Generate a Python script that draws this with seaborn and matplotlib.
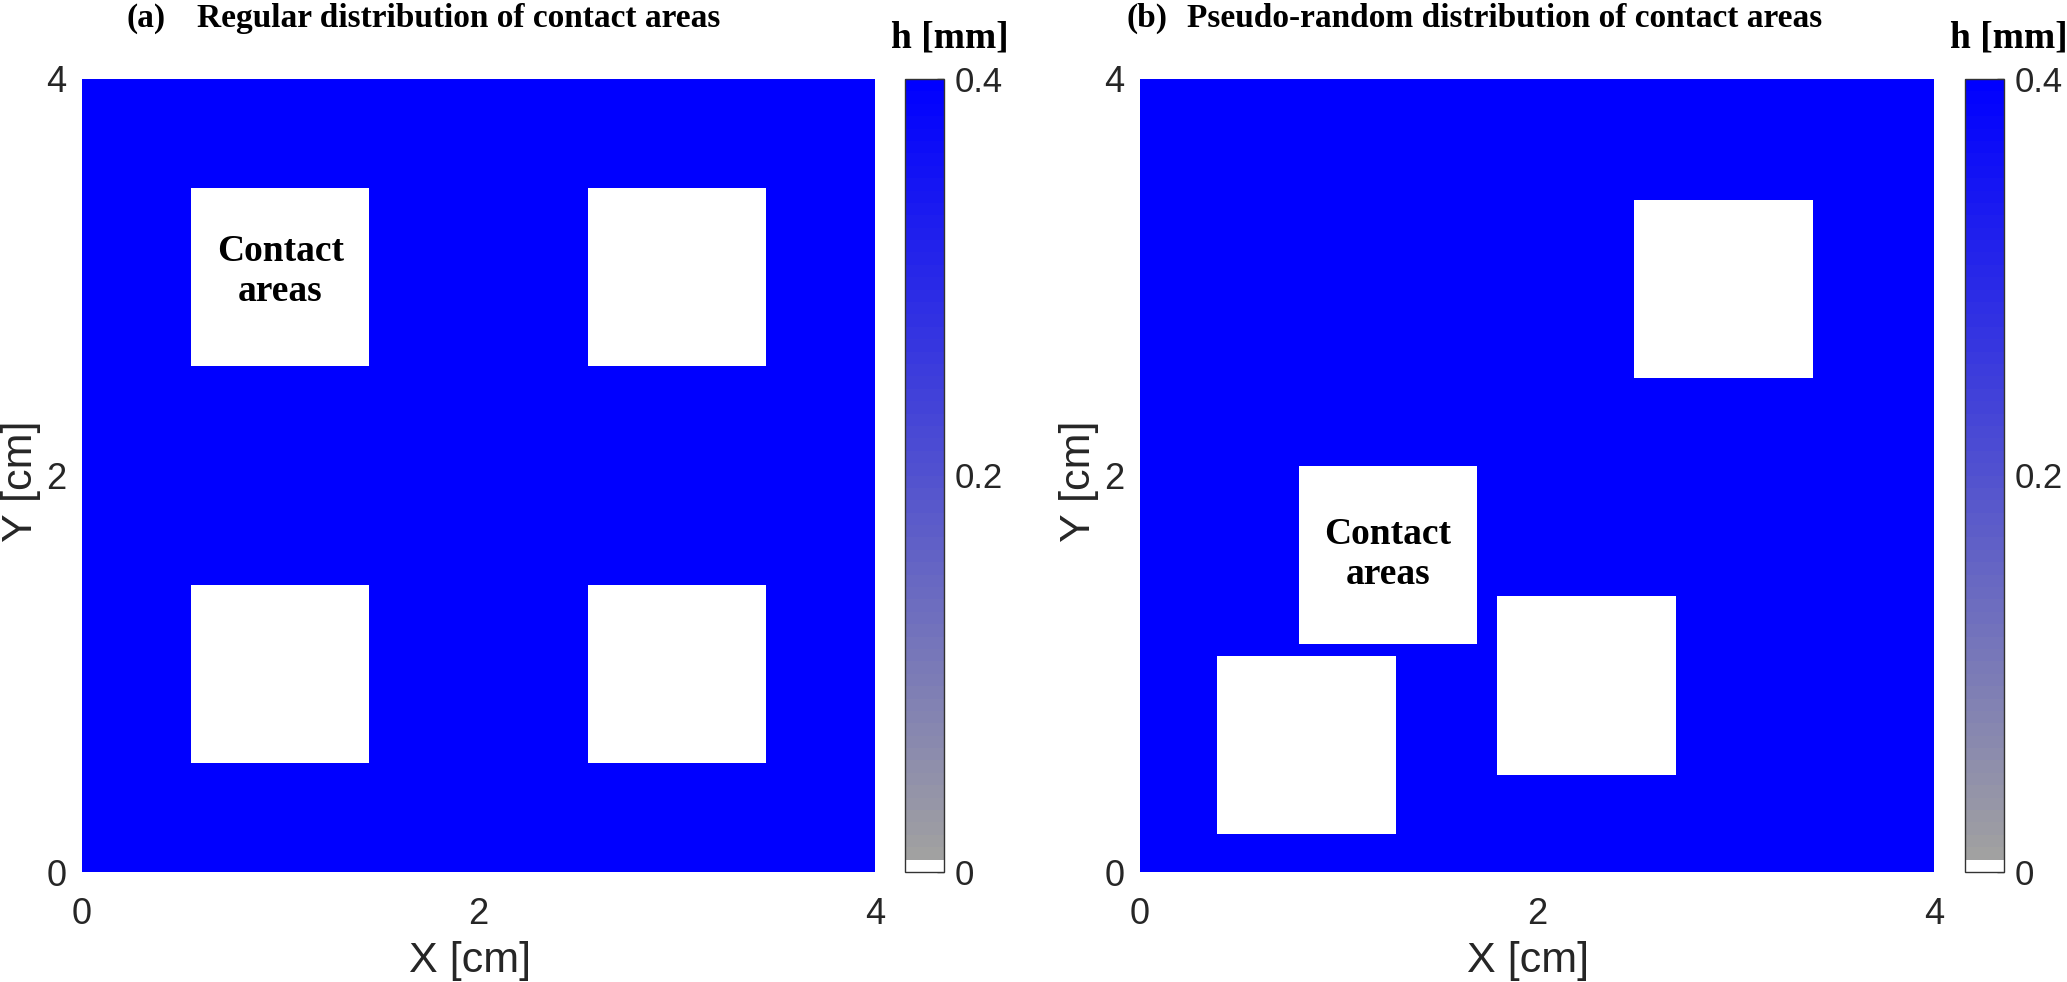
import numpy as np
import matplotlib
matplotlib.use("Agg")
import matplotlib.pyplot as plt
from matplotlib.colors import ListedColormap
import seaborn as sns

# domain and film thickness
domain_size = 4.0      # cm
grid_step = 0.01       # cm
h_max = 0.4            # mm, film thickness outside contact areas
side = 0.9             # cm, side of each square contact area

# lower-left corners of the contact areas (cm)
regular_x0 = [0.55, 2.55, 0.55, 2.55]
regular_y0 = [2.55, 2.55, 0.55, 0.55]
random_x0 = [2.49, 0.80, 1.80, 0.39]
random_y0 = [2.49, 1.15, 0.49, 0.19]

cbar_ticks = [0, 0.2, 0.4]
cbar_ticklabels = ['0', '0.2', '0.4']
axis_ticks = [0, 2, 4]

sns.set_theme(style='white')
plt.rcParams['font.family'] = ['Liberation Sans', 'DejaVu Sans']
plt.rcParams['text.color'] = '#262626'


def build_field(x0s, y0s):
    # h = h_max everywhere, 0 inside the contact squares
    n = int(round(domain_size / grid_step))
    centers = (np.arange(n) + 0.5) * grid_step
    xx, yy = np.meshgrid(centers, centers)
    field = np.full((n, n), h_max)
    for x0, y0 in zip(x0s, y0s):
        inside = (xx >= x0) & (xx < x0 + side) & (yy >= y0) & (yy < y0 + side)
        field[inside] = 0.0
    return field


# MATLAB-like 64 level map: white first level, then grey -> blue
n_levels = 64
grey = np.array([0.63, 0.63, 0.63])
blue = np.array([0.0, 0.0, 1.0])
t = np.linspace(0, 1, n_levels - 1)[:, None]
colors = np.vstack([[1, 1, 1], grey * (1 - t) + blue * t])
cmap = ListedColormap(colors)

W, H = 2067, 982
fig = plt.figure(figsize=(W / 100, H / 100), dpi=100)


def px_box(left, right, top, bottom):
    return [left / W, 1 - bottom / H, (right - left) / W, (bottom - top) / H]


panels = [
    dict(x0=regular_x0, y0=regular_y0, ax=px_box(82, 875, 79, 872),
         cax=px_box(905, 944, 79, 872), text_xy=(1.0, 3.03),
         tag='(a)', tag_x=127, title='Regular distribution of contact areas', title_x=197,
         unit_x=891),
    dict(x0=random_x0, y0=random_y0, ax=px_box(1140, 1934, 79, 872),
         cax=px_box(1965, 2004, 79, 872), text_xy=(1.25, 1.6),
         tag='(b)', tag_x=1127, title='Pseudo-random distribution of contact areas', title_x=1187,
         unit_x=1950),
]

serif = ['Liberation Serif', 'DejaVu Serif']

for p in panels:
    ax = fig.add_axes(p['ax'])
    cax = fig.add_axes(p['cax'])
    field = build_field(p['x0'], p['y0'])
    n = field.shape[0]
    sns.heatmap(field, ax=ax, cbar_ax=cax, cmap=cmap, vmin=0, vmax=h_max,
                xticklabels=False, yticklabels=False)
    ax.set_ylim(0, n)
    ax.set_xlim(0, n)
    scale = n / domain_size
    ax.set_xticks([v * scale for v in axis_ticks])
    ax.set_xticklabels([str(v) for v in axis_ticks])
    ax.set_yticks([v * scale for v in axis_ticks])
    ax.set_yticklabels([str(v) for v in axis_ticks], rotation=0)
    ax.tick_params(axis='x', length=0, pad=18, labelsize=26, labelcolor='#262626')
    ax.tick_params(axis='y', length=0, pad=11, labelsize=26, labelcolor='#262626')
    for s in ax.spines.values():
        s.set_visible(False)
    ax.set_xlabel('X [cm]', fontsize=31, color='#262626', va='baseline')
    ax.set_ylabel('Y [cm]', fontsize=31, color='#262626', va='baseline')
    ax.xaxis.set_label_coords(0.489, -0.126)
    ax.yaxis.set_label_coords(-0.063, 0.493)

    tx, ty = p['text_xy']
    ax.text(tx * scale, ty * scale, 'Contact\nareas', ha='center', va='center',
            fontsize=27, fontweight='bold', family=serif, color='black',
            linespacing=1.2)

    cbar = ax.collections[0].colorbar
    cbar.set_ticks(cbar_ticks)
    cbar.set_ticklabels(cbar_ticklabels)
    cbar.outline.set_linewidth(1.0)
    cbar.outline.set_edgecolor('#333333')
    cax.tick_params(direction='in', length=5, width=1, color='#333333',
                    pad=8, labelsize=25, labelcolor='#262626')

    fig.text(p['tag_x'] / W, 1 - 27 / H, p['tag'], va='baseline', ha='left',
             fontsize=24, fontweight='bold', family=serif, color='black')
    fig.text(p['title_x'] / W, 1 - 27 / H, p['title'], va='baseline', ha='left',
             fontsize=24, fontweight='bold', family=serif, color='black')
    fig.text(p['unit_x'] / W, 1 - 47 / H, 'h [mm]', va='baseline', ha='left',
             fontsize=27, fontweight='bold', family=serif, color='black')

fig.savefig('out.png', dpi=100)
